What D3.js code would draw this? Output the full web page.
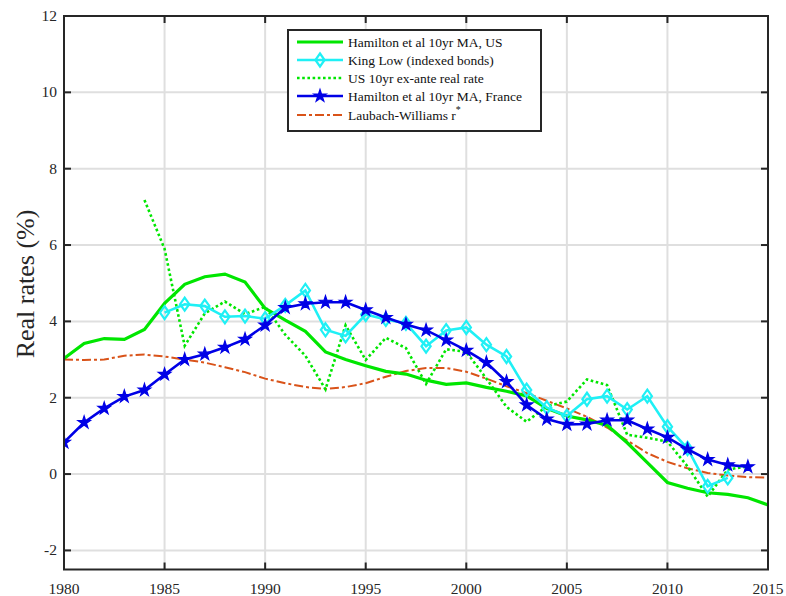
<!DOCTYPE html>
<html><head><meta charset="utf-8">
<script src="https://cdn.jsdelivr.net/npm/d3@7"></script>
<style>body{margin:0;background:#fff}svg{display:block}text{font-family:"Liberation Serif","Times New Roman",serif}</style>
</head><body><svg id="c" width="786" height="596"></svg>
<script>
const usYears = d3.range(1980, 2016);
const usMA = [3.03,3.42,3.55,3.53,3.79,4.47,4.97,5.17,5.24,5.03,4.34,4.03,3.74,3.2,3.0,2.84,2.69,2.62,2.46,2.35,2.39,2.27,2.17,2.05,1.72,1.52,1.42,1.28,0.82,0.3,-0.22,-0.37,-0.49,-0.53,-0.62,-0.81];
const klYears = d3.range(1985, 2014);
const kingLow = [4.23,4.45,4.4,4.12,4.14,4.07,4.42,4.81,3.78,3.62,4.18,4.05,3.95,3.35,3.76,3.84,3.39,3.08,2.2,1.74,1.52,1.96,2.04,1.69,2.04,1.24,0.67,-0.32,-0.1];
const exYears = d3.range(1984, 2015);
const exAnte = [7.18,5.9,3.36,4.21,4.52,4.19,4.38,3.65,3.1,2.22,3.9,2.99,3.57,3.3,2.36,3.27,3.2,2.5,1.76,1.37,1.78,1.9,2.48,2.33,1.03,0.95,0.85,0.2,-0.59,0.12,0.2];
const frYears = d3.range(1980, 2015);
const franceMA = [0.83,1.35,1.72,2.03,2.2,2.61,3.0,3.14,3.32,3.53,3.9,4.36,4.46,4.5,4.5,4.3,4.1,3.92,3.77,3.51,3.24,2.92,2.42,1.81,1.44,1.3,1.31,1.41,1.41,1.18,0.96,0.65,0.38,0.24,0.19];
const lwYears = d3.range(1980, 2016);
const laubach = [3.0,2.99,3.0,3.1,3.13,3.08,3.0,2.92,2.8,2.67,2.5,2.38,2.28,2.23,2.28,2.38,2.55,2.7,2.78,2.78,2.68,2.5,2.3,2.12,1.92,1.72,1.5,1.22,0.88,0.55,0.32,0.15,0.03,-0.04,-0.08,-0.09];
const xTicks = [1980,1985,1990,1995,2000,2005,2010,2015];
const yTicks = [-2,0,2,4,6,8,10,12];
const legendLabels = ["Hamilton et al 10yr MA, US","King Low (indexed bonds)","US 10yr ex-ante real rate","Hamilton et al 10yr MA, France","Laubach-Williams r"];

const svg = d3.select("#c");
const L = 64, R = 768, T = 16, B = 569.5;
const x = d3.scaleLinear().domain([1980, 2015]).range([L, R]);
const y = d3.scaleLinear().domain([-2.5, 12]).range([B, T]);

// grid
const g = svg.append("g");
g.selectAll(".gx").data(xTicks).join("line").attr("x1", d => x(d)).attr("x2", d => x(d)).attr("y1", T).attr("y2", B).attr("stroke", "#dfdfdf").attr("stroke-width", 2);
g.selectAll(".gy").data(yTicks).join("line").attr("y1", d => y(d)).attr("y2", d => y(d)).attr("x1", L).attr("x2", R).attr("stroke", "#dfdfdf").attr("stroke-width", 2);

svg.append("clipPath").attr("id", "pc").append("rect").attr("x", L).attr("y", T).attr("width", R - L).attr("height", B - T);
const plot = svg.append("g").attr("clip-path", "url(#pc)");

function line(years, vals) { return d3.line().x((d, i) => x(years[i])).y(d => y(d))(vals); }

const cGreen = "#00e600", cCyan = "#1ff0f5", cBlue = "#0000e6", cOrange = "#d95319";

plot.append("path").attr("d", line(lwYears, laubach)).attr("fill", "none").attr("stroke", cOrange).attr("stroke-width", 2).attr("stroke-dasharray", "9,3,3,3");
plot.append("path").attr("d", line(usYears, usMA)).attr("fill", "none").attr("stroke", cGreen).attr("stroke-width", 3.2);
plot.append("path").attr("d", line(exYears, exAnte)).attr("fill", "none").attr("stroke", cGreen).attr("stroke-width", 2.6).attr("stroke-dasharray", "2.6,2.6");
plot.append("path").attr("d", line(klYears, kingLow)).attr("fill", "none").attr("stroke", cCyan).attr("stroke-width", 2.6);
const diamond = "M0,-6.5L4.6,0L0,6.5L-4.6,0Z";
plot.selectAll(".kl").data(kingLow).join("path").attr("transform", (d, i) => `translate(${x(klYears[i])},${y(d)})`).attr("d", diamond).attr("fill", "none").attr("stroke", cCyan).attr("stroke-width", 2.2);
plot.append("path").attr("d", line(frYears, franceMA)).attr("fill", "none").attr("stroke", cBlue).attr("stroke-width", 2.6);
const star = d3.symbol().type(d3.symbolStar).size(48)();
plot.selectAll(".fr").data(franceMA).join("path").attr("transform", (d, i) => `translate(${x(frYears[i])},${y(d)})`).attr("d", star).attr("fill", cBlue).attr("stroke", cBlue).attr("stroke-width", 1.2);

// axes box
const ax = svg.append("g");
ax.append("rect").attr("x", L).attr("y", T).attr("width", R - L).attr("height", B - T).attr("fill", "none").attr("stroke", "#262626").attr("stroke-width", 2);
const tl = 7;
ax.selectAll(".tb").data(xTicks).join("line").attr("x1", d => x(d)).attr("x2", d => x(d)).attr("y1", B).attr("y2", B - tl).attr("stroke", "#262626").attr("stroke-width", 2);
ax.selectAll(".tt").data(xTicks).join("line").attr("x1", d => x(d)).attr("x2", d => x(d)).attr("y1", T).attr("y2", T + tl).attr("stroke", "#262626").attr("stroke-width", 2);
ax.selectAll(".tl").data(yTicks).join("line").attr("y1", d => y(d)).attr("y2", d => y(d)).attr("x1", L).attr("x2", L + tl).attr("stroke", "#262626").attr("stroke-width", 2);
ax.selectAll(".tr").data(yTicks).join("line").attr("y1", d => y(d)).attr("y2", d => y(d)).attr("x1", R).attr("x2", R - tl).attr("stroke", "#262626").attr("stroke-width", 2);
ax.selectAll(".xl").data(xTicks).join("text").attr("x", d => x(d)).attr("y", 594).attr("text-anchor", "middle").attr("font-size", 15.5).attr("fill", "#262626").text(d => d);
ax.selectAll(".yl").data(yTicks).join("text").attr("x", L - 7).attr("y", d => y(d) + 5).attr("text-anchor", "end").attr("font-size", 15.5).attr("fill", "#262626").text(d => d);
svg.append("text").attr("transform", "translate(34,284) rotate(-90)").attr("text-anchor", "middle").attr("font-size", 26).attr("fill", "#262626").text("Real rates (%)");

// legend
const lg = svg.append("g");
lg.append("rect").attr("x", 288).attr("y", 30).attr("width", 253).attr("height", 101).attr("fill", "#fff").attr("stroke", "#262626").attr("stroke-width", 2);
const rowsY = [42, 60, 78, 96, 115];
const lx1 = 297, lx2 = 343;
lg.append("line").attr("x1", lx1).attr("x2", lx2).attr("y1", rowsY[0]).attr("y2", rowsY[0]).attr("stroke", cGreen).attr("stroke-width", 3.2);
lg.append("line").attr("x1", lx1).attr("x2", lx2).attr("y1", rowsY[1]).attr("y2", rowsY[1]).attr("stroke", cCyan).attr("stroke-width", 2.6);
lg.append("path").attr("transform", `translate(${(lx1 + lx2) / 2},${rowsY[1]})`).attr("d", diamond).attr("fill", "none").attr("stroke", cCyan).attr("stroke-width", 2.2);
lg.append("line").attr("x1", lx1).attr("x2", lx2).attr("y1", rowsY[2]).attr("y2", rowsY[2]).attr("stroke", cGreen).attr("stroke-width", 2.6).attr("stroke-dasharray", "2.6,2.6");
lg.append("line").attr("x1", lx1).attr("x2", lx2).attr("y1", rowsY[3]).attr("y2", rowsY[3]).attr("stroke", cBlue).attr("stroke-width", 2.6);
lg.append("path").attr("transform", `translate(${(lx1 + lx2) / 2},${rowsY[3]})`).attr("d", star).attr("fill", cBlue).attr("stroke", cBlue).attr("stroke-width", 1.2);
lg.append("line").attr("x1", lx1).attr("x2", lx2).attr("y1", rowsY[4]).attr("y2", rowsY[4]).attr("stroke", cOrange).attr("stroke-width", 2).attr("stroke-dasharray", "9,3,3,3");
legendLabels.forEach((t, i) => {
  const tx = lg.append("text").attr("x", 348).attr("y", rowsY[i] + 5).attr("font-size", 13.5).attr("fill", "#111").text(t);
  if (i === 4) tx.append("tspan").attr("dy", -7).attr("font-size", 10).text("*");
});
</script></body></html>
